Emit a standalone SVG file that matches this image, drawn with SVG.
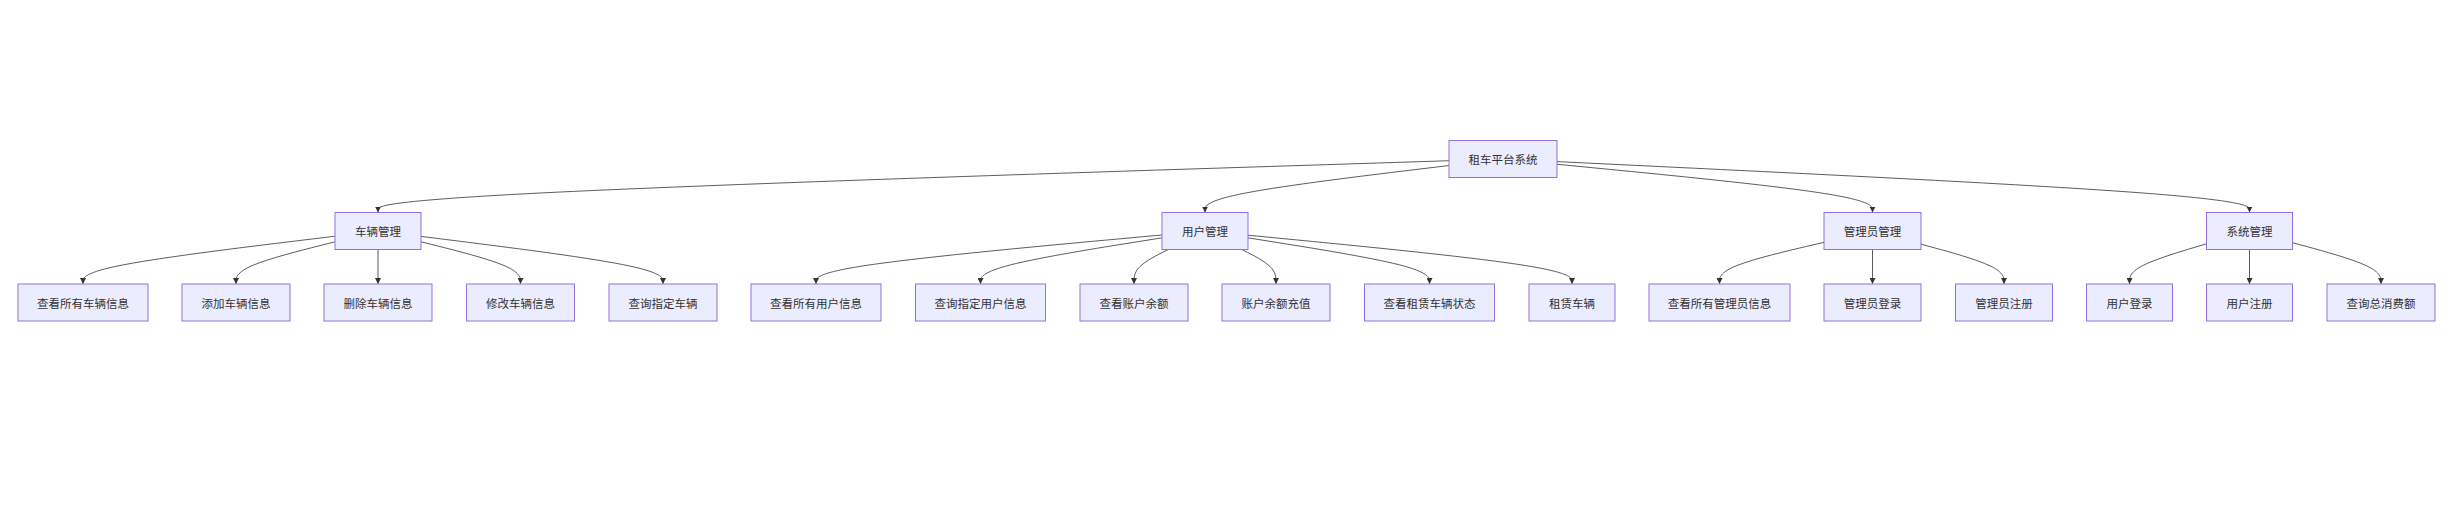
<svg xmlns="http://www.w3.org/2000/svg" width="2461" height="515" viewBox="0 0 2461 515">
<style>
.node rect{fill:#ECECFF;stroke:#9370DB;stroke-width:1}
.node text{font-family:"Noto Sans CJK SC","Noto Sans",sans-serif;font-size:11.5px;fill:#333;text-anchor:middle;dominant-baseline:central}
.edges path{fill:none;stroke:#333;stroke-width:0.8;marker-end:url(#arrow)}
</style>
<defs>
<marker id="arrow" viewBox="0 0 10 10" refX="10" refY="5" markerWidth="6" markerHeight="6" markerUnits="userSpaceOnUse" orient="auto">
<path d="M0,0 L10,5 L0,10 z" fill="#333"/>
</marker>
</defs>
<rect width="2461" height="515" fill="#fff"/>
<g class="edges">
<path d="M1449,160.73 L1270.5,166.44 C1092,172.15 735,183.58 556.5,192.2 C378,200.83 378,206.67 378,209.58 L378,212.5"/>
<path d="M1449,165.52 L1408.33,170.43 C1367.67,175.35 1286.33,185.17 1245.67,193 C1205,200.83 1205,206.67 1205,209.58 L1205,212.5"/>
<path d="M1557,164.26 L1609.58,169.38 C1662.17,174.51 1767.33,184.75 1819.92,192.79 C1872.5,200.83 1872.5,206.67 1872.5,209.58 L1872.5,212.5"/>
<path d="M1557,161.6 L1672.42,167.17 C1787.83,172.73 2018.67,183.87 2134.08,192.35 C2249.5,200.83 2249.5,206.67 2249.5,209.58 L2249.5,212.5"/>
<path d="M335,236.21 L293,241.3 C251,246.39 167,256.57 125,264.54 C83,272.5 83,278.25 83,281.13 L83,284"/>
<path d="M335,241.83 L318.5,245.98 C302,250.14 269,258.44 252.5,265.47 C236,272.5 236,278.25 236,281.13 L236,284"/>
<path d="M378,249.5 L378,284"/>
<path d="M421,241.79 L437.58,245.95 C454.17,250.11 487.33,258.43 503.92,265.47 C520.5,272.5 520.5,278.25 520.5,281.13 L520.5,284"/>
<path d="M421,236.39 L461.33,241.45 C501.67,246.51 582.33,256.63 622.67,264.57 C663,272.5 663,278.25 663,281.13 L663,284"/>
<path d="M1162,234.95 L1104.33,240.25 C1046.67,245.55 931.33,256.15 873.67,264.33 C816,272.5 816,278.25 816,281.13 L816,284"/>
<path d="M1162,237.85 L1131.75,242.67 C1101.5,247.48 1041,257.12 1010.75,264.81 C980.5,272.5 980.5,278.25 980.5,281.13 L980.5,284"/>
<path d="M1168.26,249.5 L1162.55,252.38 C1156.84,255.25 1145.42,261 1139.71,266.75 C1134,272.5 1134,278.25 1134,281.13 L1134,284"/>
<path d="M1241.74,249.5 L1247.45,252.38 C1253.16,255.25 1264.58,261 1270.29,266.75 C1276,272.5 1276,278.25 1276,281.13 L1276,284"/>
<path d="M1248,237.85 L1278.25,242.67 C1308.5,247.48 1369,257.12 1399.25,264.81 C1429.5,272.5 1429.5,278.25 1429.5,281.13 L1429.5,284"/>
<path d="M1248,235.19 L1302,240.45 C1356,245.71 1464,256.23 1518,264.37 C1572,272.5 1572,278.25 1572,281.13 L1572,284"/>
<path d="M1824,242.33 L1806.58,246.4 C1789.17,250.47 1754.33,258.61 1736.92,265.56 C1719.5,272.5 1719.5,278.25 1719.5,281.13 L1719.5,284"/>
<path d="M1872.5,249.5 L1872.5,284"/>
<path d="M1921,244.19 L1934.83,247.95 C1948.67,251.71 1976.33,259.23 1990.17,265.87 C2004,272.5 2004,278.25 2004,281.13 L2004,284"/>
<path d="M2206.5,243.81 L2193.67,247.63 C2180.83,251.46 2155.17,259.1 2142.33,265.8 C2129.5,272.5 2129.5,278.25 2129.5,281.13 L2129.5,284"/>
<path d="M2249.5,249.5 L2249.5,284"/>
<path d="M2292.5,242.69 L2307.25,246.7 C2322,250.71 2351.5,258.73 2366.25,265.62 C2381,272.5 2381,278.25 2381,281.13 L2381,284"/>
</g>
<g class="node" id="root"><rect x="1449" y="140.5" width="108" height="37"/><text x="1503" y="159">租车平台系统</text></g>
<g class="node" id="car"><rect x="335" y="212.5" width="86" height="37"/><text x="378" y="231">车辆管理</text></g>
<g class="node" id="user"><rect x="1162" y="212.5" width="86" height="37"/><text x="1205" y="231">用户管理</text></g>
<g class="node" id="admin"><rect x="1824" y="212.5" width="97" height="37"/><text x="1872.5" y="231">管理员管理</text></g>
<g class="node" id="sys"><rect x="2206.5" y="212.5" width="86" height="37"/><text x="2249.5" y="231">系统管理</text></g>
<g class="node" id="c1"><rect x="18" y="284" width="130" height="37"/><text x="83" y="302.5">查看所有车辆信息</text></g>
<g class="node" id="c2"><rect x="182" y="284" width="108" height="37"/><text x="236" y="302.5">添加车辆信息</text></g>
<g class="node" id="c3"><rect x="324" y="284" width="108" height="37"/><text x="378" y="302.5">删除车辆信息</text></g>
<g class="node" id="c4"><rect x="466.5" y="284" width="108" height="37"/><text x="520.5" y="302.5">修改车辆信息</text></g>
<g class="node" id="c5"><rect x="609" y="284" width="108" height="37"/><text x="663" y="302.5">查询指定车辆</text></g>
<g class="node" id="u1"><rect x="751" y="284" width="130" height="37"/><text x="816" y="302.5">查看所有用户信息</text></g>
<g class="node" id="u2"><rect x="915.5" y="284" width="130" height="37"/><text x="980.5" y="302.5">查询指定用户信息</text></g>
<g class="node" id="u3"><rect x="1080" y="284" width="108" height="37"/><text x="1134" y="302.5">查看账户余额</text></g>
<g class="node" id="u4"><rect x="1222" y="284" width="108" height="37"/><text x="1276" y="302.5">账户余额充值</text></g>
<g class="node" id="u5"><rect x="1364.5" y="284" width="130" height="37"/><text x="1429.5" y="302.5">查看租赁车辆状态</text></g>
<g class="node" id="u6"><rect x="1529" y="284" width="86" height="37"/><text x="1572" y="302.5">租赁车辆</text></g>
<g class="node" id="a1"><rect x="1649" y="284" width="141" height="37"/><text x="1719.5" y="302.5">查看所有管理员信息</text></g>
<g class="node" id="a2"><rect x="1824" y="284" width="97" height="37"/><text x="1872.5" y="302.5">管理员登录</text></g>
<g class="node" id="a3"><rect x="1955.5" y="284" width="97" height="37"/><text x="2004" y="302.5">管理员注册</text></g>
<g class="node" id="s1"><rect x="2086.5" y="284" width="86" height="37"/><text x="2129.5" y="302.5">用户登录</text></g>
<g class="node" id="s2"><rect x="2206.5" y="284" width="86" height="37"/><text x="2249.5" y="302.5">用户注册</text></g>
<g class="node" id="s3"><rect x="2327" y="284" width="108" height="37"/><text x="2381" y="302.5">查询总消费额</text></g>
</svg>
